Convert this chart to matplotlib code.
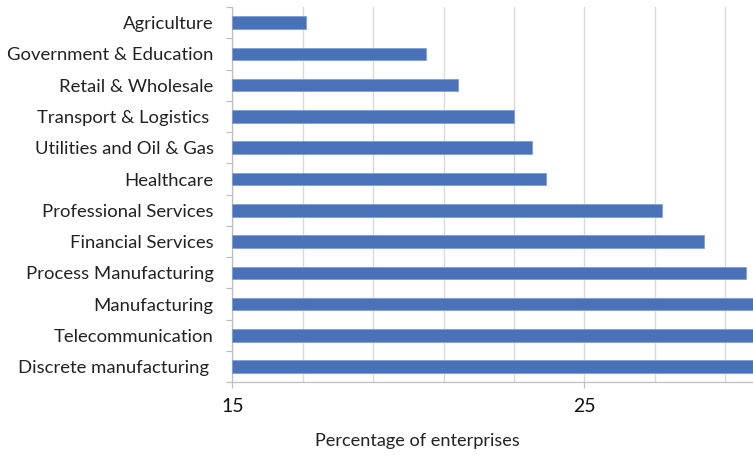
import matplotlib.pyplot as plt
from matplotlib.ticker import MultipleLocator, FixedLocator

# sectors, top to bottom
sectors = ["Agriculture", "Government & Education", "Retail & Wholesale",
           "Transport & Logistics ", "Utilities and Oil & Gas", "Healthcare",
           "Professional Services", "Financial Services", "Process Manufacturing",
           "Manufacturing", "Telecommunication", "Discrete manufacturing "]
share = [17.1, 20.5, 21.4, 23.0, 23.5, 23.9, 27.2, 28.4, 29.6, 30.6, 31.2, 32.0]

plt.rcParams['font.family'] = ['Lato', 'DejaVu Sans']

fig = plt.figure(figsize=(7.53, 4.55), dpi=100)
ax = fig.add_axes([0.3085, 0.1598, 0.6915, 0.8248])

pos = list(range(len(sectors)))
ax.barh(pos, [s - 15 for s in share], left=15, height=0.4,
        color="#4a72b8", edgecolor="#7f9fd8", linewidth=0.6, zorder=3)

ax.set_ylim(len(sectors) - 0.5, -0.5)
ax.set_xlim(15, 29.79)

# y axis: labels at bar centres, small ticks between categories
ax.set_yticks(pos)
ax.set_yticklabels(sectors, fontsize=13.3, color="#222222")
ax.yaxis.set_minor_locator(FixedLocator([p - 0.5 for p in pos] + [len(pos) - 0.5]))
ax.tick_params(axis="y", which="major", length=0, pad=13.5)
ax.tick_params(axis="y", which="minor", length=4.5, width=0.9, color="#bfbfbf")

# x axis: labels only at 15 and 25, gridlines every 2
ax.xaxis.set_major_locator(FixedLocator([15, 25]))
ax.xaxis.set_minor_locator(MultipleLocator(2, offset=1))
ax.tick_params(axis="x", which="major", length=4.5, width=0.9, color="#bfbfbf",
               labelsize=14, pad=7, labelcolor="#111111")
ax.tick_params(axis="x", which="minor", length=0)
ax.grid(axis="x", which="both", color="#d9d9d9", linewidth=1.0, zorder=0)

ax.set_xlabel("Percentage of enterprises", fontsize=13.1, color="#222222")
ax.xaxis.set_label_coords(0.355, -0.135)

for side in ["top", "right"]:
    ax.spines[side].set_visible(False)
for side in ["left", "bottom"]:
    ax.spines[side].set_color("#bfbfbf")
    ax.spines[side].set_linewidth(0.9)

fig.savefig("out.png", dpi=100)
